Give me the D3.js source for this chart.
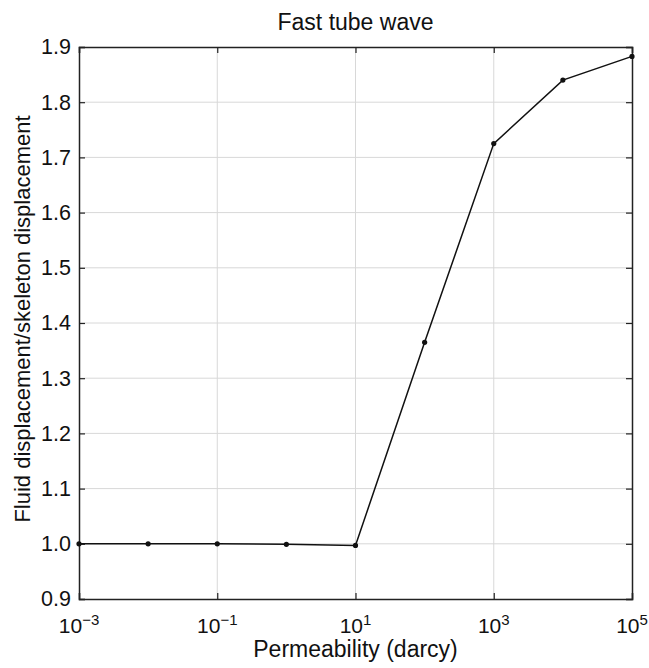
<!DOCTYPE html>
<html>
<head>
<meta charset="utf-8">
<script src="https://cdn.jsdelivr.net/npm/d3@7"></script>
<style>
  body { margin: 0; background: #fff; }
  text { font-family: "Liberation Sans", Arial, sans-serif; fill: #111; }
</style>
</head>
<body>
<svg id="chart" width="649" height="668"></svg>
<script>
// data
const permeability = [1e-3, 1e-2, 1e-1, 1e0, 1e1, 1e2, 1e3, 1e4, 1e5];
const ratio = [1.0, 1.0, 1.0, 0.999, 0.997, 1.365, 1.725, 1.840, 1.883];
const xTickExponents = [-3, -1, 1, 3, 5];
const yTicks = [0.9, 1.0, 1.1, 1.2, 1.3, 1.4, 1.5, 1.6, 1.7, 1.8, 1.9];

const svg = d3.select("#chart");
const margin = { top: 47, right: 17, bottom: 69, left: 79 };
const width = 649 - margin.left - margin.right;
const height = 668 - margin.top - margin.bottom;

const g = svg.append("g")
  .attr("transform", `translate(${margin.left},${margin.top})`);

const x = d3.scaleLog().domain([1e-3, 1e5]).range([0, width]);
const y = d3.scaleLinear().domain([0.9, 1.9]).range([height, 0]);

// grid
g.append("g").selectAll("line")
  .data(xTickExponents.slice(1, -1))
  .join("line")
  .attr("x1", d => x(Math.pow(10, d))).attr("x2", d => x(Math.pow(10, d)))
  .attr("y1", 0).attr("y2", height)
  .attr("stroke", "#d8d8d8").attr("stroke-width", 1);

g.append("g").selectAll("line")
  .data(yTicks.slice(1, -1))
  .join("line")
  .attr("x1", 0).attr("x2", width)
  .attr("y1", d => y(d)).attr("y2", d => y(d))
  .attr("stroke", "#d8d8d8").attr("stroke-width", 1);

// axes with inward ticks
const tickLen = 6;
const xTickVals = xTickExponents.map(e => Math.pow(10, e));

const xAxis = g.append("g")
  .attr("transform", `translate(0,${height})`)
  .call(d3.axisBottom(x).tickValues(xTickVals).tickSize(-tickLen).tickFormat(""));
const xAxisTop = g.append("g")
  .call(d3.axisTop(x).tickValues(xTickVals).tickSize(-tickLen).tickFormat(""));
const yAxis = g.append("g")
  .call(d3.axisLeft(y).tickValues(yTicks).tickSize(-tickLen).tickPadding(8)
    .tickFormat(d3.format(".1f")));
const yAxisRight = g.append("g")
  .attr("transform", `translate(${width},0)`)
  .call(d3.axisRight(y).tickValues(yTicks).tickSize(-tickLen).tickFormat(""));

[xAxis, xAxisTop, yAxis, yAxisRight].forEach(a => {
  a.select(".domain").attr("stroke", "#222").attr("stroke-width", 1.5);
  a.selectAll(".tick line").attr("stroke", "#222").attr("stroke-width", 1.2);
});
yAxis.selectAll(".tick text")
  .attr("font-size", "21.5px")
  .attr("font-family", "Liberation Sans, Arial, sans-serif")
  .attr("fill", "#111");

// x tick labels with superscript exponents
const xLabels = g.append("g").selectAll("text")
  .data(xTickExponents)
  .join("text")
  .attr("x", d => x(Math.pow(10, d)))
  .attr("y", height + 34)
  .attr("text-anchor", "middle")
  .attr("font-size", "21px");
xLabels.append("tspan").text("10");
xLabels.append("tspan")
  .attr("dy", "-8")
  .attr("font-size", "15px")
  .text(d => d < 0 ? "\u2212" + Math.abs(d) : d);

// line + markers
const line = d3.line().x((d, i) => x(permeability[i])).y(d => y(d));
g.append("path")
  .datum(ratio)
  .attr("fill", "none")
  .attr("stroke", "#111")
  .attr("stroke-width", 1.5)
  .attr("d", line);

g.append("g").selectAll("circle")
  .data(ratio)
  .join("circle")
  .attr("cx", (d, i) => x(permeability[i]))
  .attr("cy", d => y(d))
  .attr("r", 2.6)
  .attr("fill", "#111");

// titles
svg.append("text")
  .attr("x", margin.left + width / 2)
  .attr("y", 30)
  .attr("text-anchor", "middle")
  .attr("font-size", "23px")
  .text("Fast tube wave");

svg.append("text")
  .attr("x", margin.left + width / 2)
  .attr("y", 657)
  .attr("text-anchor", "middle")
  .attr("font-size", "23px")
  .text("Permeability (darcy)");

svg.append("text")
  .attr("transform", `translate(30,${margin.top + height / 2 - 4}) rotate(-90)`)
  .attr("text-anchor", "middle")
  .attr("font-size", "22px")
  .text("Fluid displacement/skeleton displacement");
</script>
</body>
</html>
